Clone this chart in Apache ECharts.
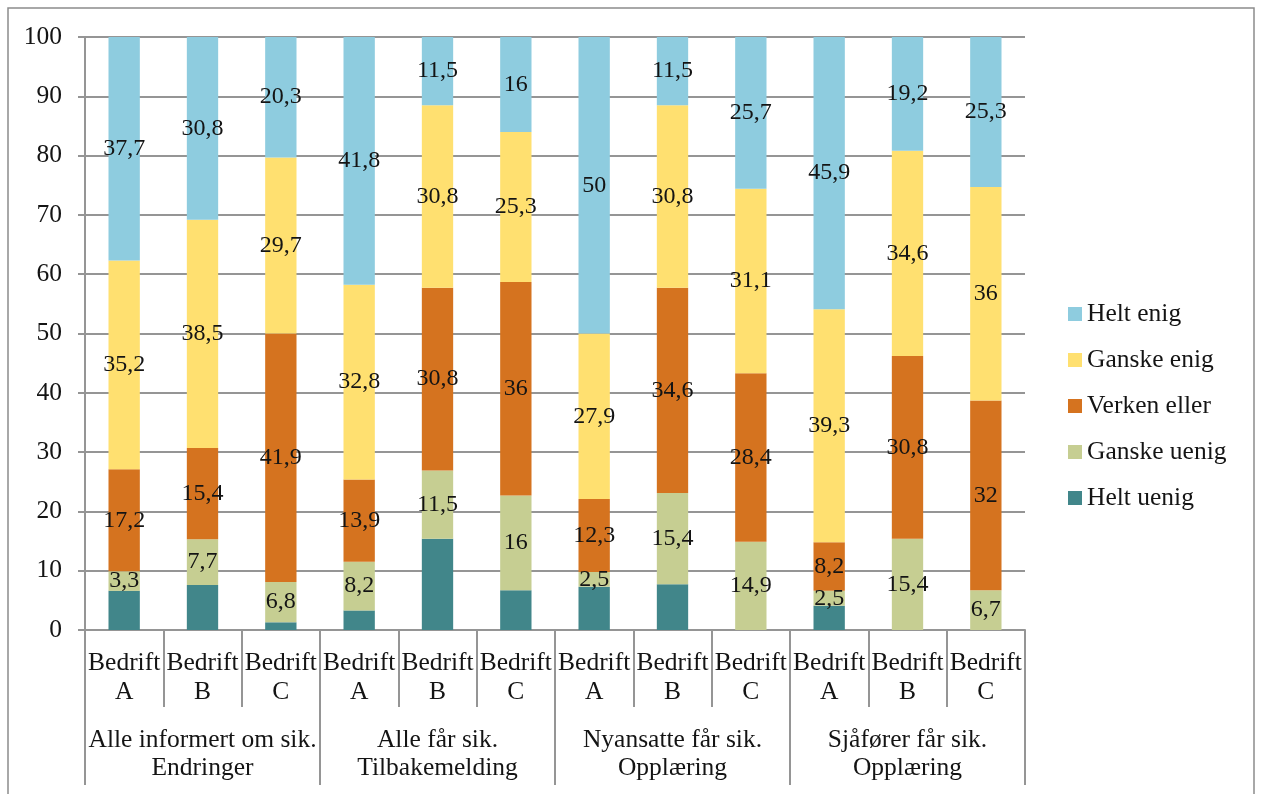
<!DOCTYPE html>
<html>
<head>
<meta charset="utf-8">
<script src="https://cdn.jsdelivr.net/npm/echarts@6/dist/echarts.min.js"></script>
<style>
  html, body { margin: 0; padding: 0; background: #fff; }
  #chart { width: 1262px; height: 794px; }
</style>
</head>
<body>
<div id="chart"></div>
<script>
// Companies (inner level) and statements (outer level) of the category axis
const categories = [
  'Bedrift\nA', 'Bedrift\nB', 'Bedrift\nC',
  'Bedrift\nA', 'Bedrift\nB', 'Bedrift\nC',
  'Bedrift\nA', 'Bedrift\nB', 'Bedrift\nC',
  'Bedrift\nA', 'Bedrift\nB', 'Bedrift\nC'
];
const groups = [
  'Alle informert om sik.\nEndringer',
  'Alle får sik.\nTilbakemelding',
  'Nyansatte får sik.\nOpplæring',
  'Sjåfører får sik.\nOpplæring'
];
const yTicks = [0, 10, 20, 30, 40, 50, 60, 70, 80, 90, 100];

// Share of answers (%) per response category
const heltUenig    = [6.6, 7.6, 1.3, 3.3, 15.4, 6.7, 7.3, 7.7, 0, 4.1, 0, 0];
const ganskeUenig  = [3.3, 7.7, 6.8, 8.2, 11.5, 16, 2.5, 15.4, 14.9, 2.5, 15.4, 6.7];
const verkenEller  = [17.2, 15.4, 41.9, 13.9, 30.8, 36, 12.3, 34.6, 28.4, 8.2, 30.8, 32];
const ganskeEnig   = [35.2, 38.5, 29.7, 32.8, 30.8, 25.3, 27.9, 30.8, 31.1, 39.3, 34.6, 36];
const heltEnig     = [37.7, 30.8, 20.3, 41.8, 11.5, 16, 50, 11.5, 25.7, 45.9, 19.2, 25.3];

const FONT = '"Liberation Serif", "DejaVu Serif", serif';
const GRAY = '#959595';
const TXT = '#141414';
const AXIS_FS = 25.5;

function seriesOf(name, data, color, showLabel) {
  return {
    name: name,
    type: 'bar',
    stack: 'total',
    barWidth: '40%',
    data: data,
    itemStyle: { color: color },
    label: {
      show: showLabel,
      position: 'inside',
      color: TXT,
      fontFamily: FONT,
      fontSize: 24,
      formatter: p => String(p.value).replace('.', ',')
    },
    emphasis: { disabled: true }
  };
}

const chart = echarts.init(document.getElementById('chart'), null, { renderer: 'canvas' });
chart.setOption({
  animation: false,
  backgroundColor: '#ffffff',
  textStyle: { fontFamily: FONT },
  grid: { left: 85, right: 237, top: 37, bottom: 164, containLabel: false },
  graphic: [{
    type: 'rect',
    shape: { x: 8, y: 8, width: 1246, height: 800 },
    style: { fill: 'none', stroke: '#8c8c8c', lineWidth: 1.5 },
    silent: true
  }],
  legend: {
    orient: 'vertical',
    left: 1063,
    top: 296,
    itemWidth: 14,
    itemHeight: 14,
    itemGap: 20,
    icon: 'rect',
    data: ['Helt enig', 'Ganske enig', 'Verken eller', 'Ganske uenig', 'Helt uenig'],
    textStyle: { fontFamily: FONT, fontSize: AXIS_FS, color: TXT, lineHeight: 26 }
  },
  xAxis: [{
    type: 'category',
    position: 'bottom',
    data: categories,
    boundaryGap: true,
    axisLine: { show: true, lineStyle: { color: GRAY, width: 2 } },
    axisTick: { show: true, length: 77, interval: 0, alignWithLabel: false,
                lineStyle: { color: GRAY, width: 2 } },
    axisLabel: { interval: 0, margin: 19, fontFamily: FONT, fontSize: AXIS_FS,
                 color: TXT, lineHeight: 29, align: 'center' },
    splitLine: { show: false }
  }, {
    type: 'category',
    position: 'bottom',
    data: groups,
    boundaryGap: true,
    axisLine: { show: false },
    axisTick: { show: true, length: 155, interval: 0, alignWithLabel: false,
                lineStyle: { color: GRAY, width: 2 } },
    axisLabel: { interval: 0, margin: 96, fontFamily: FONT, fontSize: AXIS_FS,
                 color: TXT, lineHeight: 28.5, align: 'center' },
    splitLine: { show: false }
  }],
  yAxis: {
    type: 'value',
    min: yTicks[0],
    max: yTicks[yTicks.length - 1],
    interval: 10,
    axisLine: { show: true, lineStyle: { color: GRAY, width: 2 } },
    axisTick: { show: true, length: 7, lineStyle: { color: GRAY, width: 2 } },
    axisLabel: { margin: 23, fontFamily: FONT, fontSize: AXIS_FS, color: TXT },
    splitLine: { show: true, lineStyle: { color: GRAY, width: 2 } }
  },
  series: [
    seriesOf('Helt uenig', heltUenig, '#41868A', false),
    seriesOf('Ganske uenig', ganskeUenig, '#C6CE92', true),
    seriesOf('Verken eller', verkenEller, '#D5731F', true),
    seriesOf('Ganske enig', ganskeEnig, '#FFE070', true),
    seriesOf('Helt enig', heltEnig, '#8ECCDF', true)
  ]
});
</script>
</body>
</html>
